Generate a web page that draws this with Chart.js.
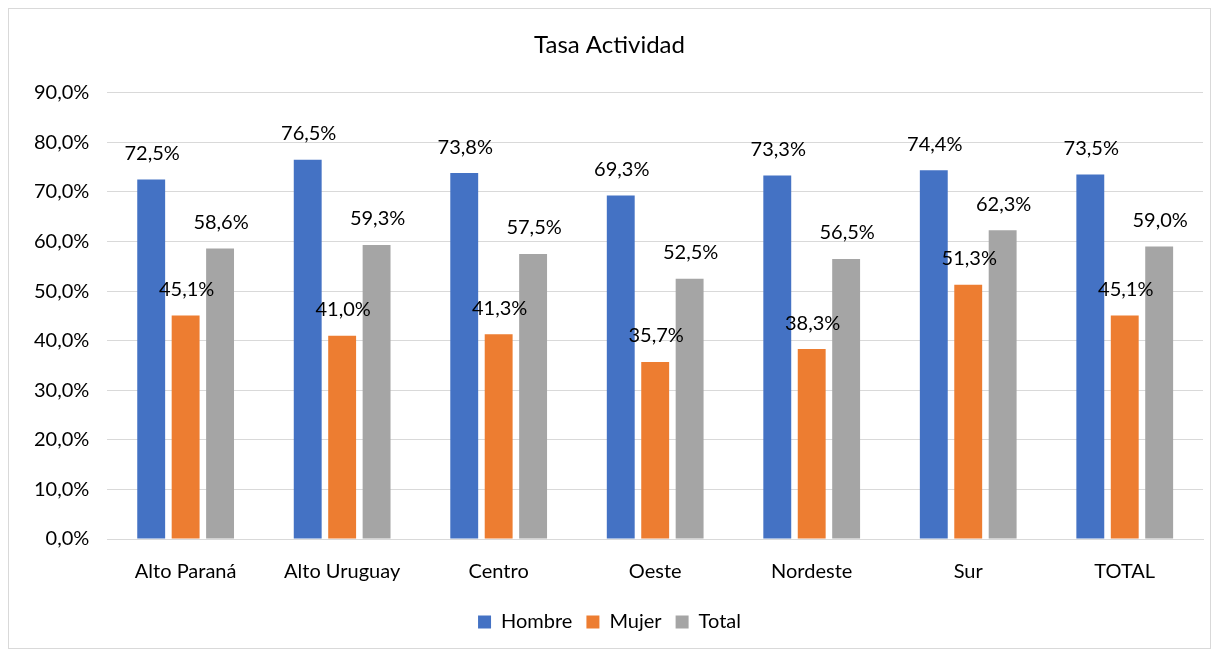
<!DOCTYPE html>
<html>
<head>
<meta charset="utf-8">
<script src="https://cdn.jsdelivr.net/npm/chart.js@4.4.1/dist/chart.umd.min.js"></script>
<style>
  body { margin: 0; background: #fff; }
  #wrap { position: relative; width: 1217px; height: 651px; }
  #frame { position: absolute; left: 8px; top: 8px; width: 1201px; height: 639px; border: 1px solid #d9d9d9; pointer-events: none; }
</style>
</head>
<body>
<div id="wrap">
  <canvas id="c" width="1217" height="651"></canvas>
  <div id="frame"></div>
</div>
<script>
const categories = ['Alto Paraná', 'Alto Uruguay', 'Centro', 'Oeste', 'Nordeste', 'Sur', 'TOTAL'];
const hombre = [72.5, 76.5, 73.8, 69.3, 73.3, 74.4, 73.5];
const mujer = [45.1, 41.0, 41.3, 35.7, 38.3, 51.3, 45.1];
const total = [58.6, 59.3, 57.5, 52.5, 56.5, 62.3, 59.0];
const yTicks = [0, 10, 20, 30, 40, 50, 60, 70, 80, 90];

const fmt = v => v.toFixed(1).replace('.', ',') + '%';
const FONT = 'Lato, "Open Sans", sans-serif';

// etiquetas encima de cada barra
const barLabels = {
  id: 'barLabels',
  afterDatasetsDraw(chart) {
    const ctx = chart.ctx;
    ctx.save();
    ctx.font = '20px ' + FONT;
    ctx.fillStyle = '#000';
    ctx.textAlign = 'center';
    ctx.textBaseline = 'bottom';
    chart.data.datasets.forEach((ds, i) => {
      chart.getDatasetMeta(i).data.forEach((bar, j) => {
        ctx.fillText(fmt(ds.data[j]), bar.x + 1, bar.y - 16);
      });
    });
    ctx.restore();
  }
};

new Chart(document.getElementById('c'), {
  type: 'bar',
  data: {
    labels: categories,
    datasets: [
      {label: 'Hombre', data: hombre, backgroundColor: '#4472c4'},
      {label: 'Mujer', data: mujer, backgroundColor: '#ed7d31'},
      {label: 'Total', data: total, backgroundColor: '#a5a5a5'}
    ]
  },
  options: {
    responsive: false,
    animation: false,
    categoryPercentage: 0.66,
    barPercentage: 0.81,
    layout: {padding: {left: 16, right: 14, top: 14, bottom: 9}},
    plugins: {
      title: {
        display: true,
        text: 'Tasa Actividad',
        color: '#000',
        font: {family: FONT, size: 24, weight: 'normal'},
        padding: {top: 17, bottom: 33}
      },
      legend: {
        position: 'bottom',
        labels: {
          color: '#000',
          font: {family: FONT, size: 20},
          boxWidth: 13,
          boxHeight: 13,
          padding: 14
        }
      },
      tooltip: {enabled: false}
    },
    scales: {
      x: {
        grid: {display: false},
        border: {color: '#d9d9d9'},
        afterFit: axis => { axis.height += 1; },
        ticks: {color: '#000', font: {family: FONT, size: 20}, padding: 13}
      },
      y: {
        min: 0,
        max: 90,
        afterBuildTicks: axis => { axis.ticks = yTicks.map(v => ({value: v})); },
        grid: {color: '#d9d9d9', drawTicks: false},
        border: {display: false},
        ticks: {color: '#000', font: {family: FONT, size: 20}, padding: 18, callback: v => fmt(v)}
      }
    }
  },
  plugins: [barLabels]
});
</script>
</body>
</html>
